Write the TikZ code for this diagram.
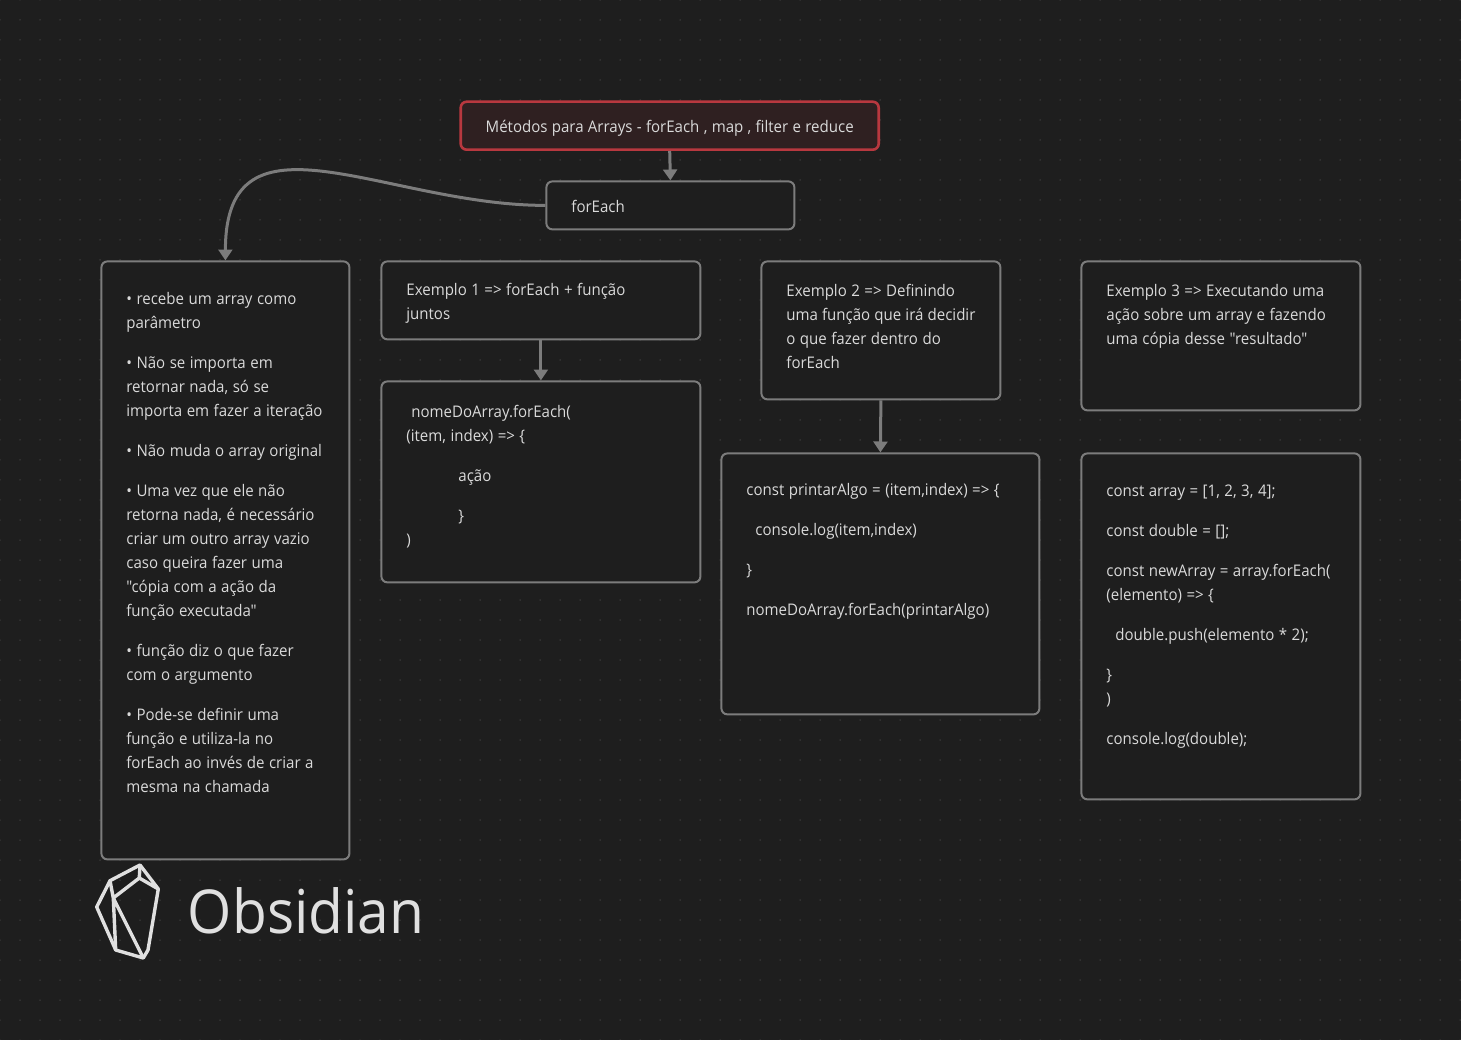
\documentclass[tikz,border=0pt]{standalone}
\usepackage{fontspec}
\newfontfamily\fonte[FakeStretch=0.94,WordSpace=1.15]{Open Sans}
\usetikzlibrary{arrows.meta}
\definecolor{fundo}{HTML}{1E1E1E}
\definecolor{ponto}{HTML}{434343}
\definecolor{borda}{HTML}{7C7C7C}
\definecolor{seta}{HTML}{7C7C7C}
\definecolor{texto}{HTML}{DADADA}
\definecolor{vermelho}{HTML}{B8383F}
\definecolor{fundovermelho}{HTML}{2F2021}
\definecolor{logo}{HTML}{E0E0E0}
\newdimen\pxu
\pxu=0.02cm
% largura, altura, folga em cima, texto
\newcommand{\cartao}[4]{\parbox[c][#2\pxu][t]{#1\pxu}{\fonte\fontsize{16\pxu}{24\pxu}\selectfont
	\setlength{\parskip}{16\pxu}\setlength{\parindent}{0pt}\raggedright
	\vspace*{\dimexpr #3\pxu-\parskip\relax}\strut #4}}
\tikzset{
	card/.style={draw=borda, fill=fundo, line width=2\pxu, rounded corners=6\pxu, anchor=north west,
		inner xsep=25\pxu, inner ysep=0pt, text=texto},
	cardred/.style={card, draw=vermelho, fill=fundovermelho, line width=2.6\pxu},
	link/.style={draw=seta, line width=3\pxu, -{Triangle[width=7.9pt, length=6.2pt]}},
}
\begin{document}
\begin{tikzpicture}[x=0.02cm, y=-0.02cm, line join=round]
	\fill[fundo] (0,0) rectangle (1461,1040);
	\useasboundingbox (0,0) rectangle (1461,1040);
	\foreach \i in {0,...,73}{
		\foreach \j in {0,...,52}{
			\fill[ponto] (20*\i,20*\j) circle (0.75);
		}
	}
	\node[cardred] (title) at (459.4,100.4) {\cartao{368}{48}{14}{Métodos para Arrays - forEach , map , filter e reduce}};
	\node[card] (foreach) at (545.4,180.4) {\cartao{198}{48}{14}{forEach}};
	\node[card] (resumo) at (100.4,260.4) {\cartao{198}{598}{26}{• recebe um array como\\
parâmetro

• Não se importa em\\
retornar nada, só se\\
importa em fazer a iteração

• Não muda o array original

• Uma vez que ele não\\
retorna nada, é necessário\\
criar um outro array vazio\\
caso queira fazer uma\\
"cópia com a ação da\\
função executada"

• função diz o que fazer\\
com o argumento

• Pode-se definir uma\\
função e utiliza-la no\\
forEach ao invés de criar a\\
mesma na chamada}};
	\node[card] (ex1) at (380.4,260.4) {\cartao{269}{78}{17}{Exemplo 1 => forEach + função\\
juntos}};
	\node[card] (cod1) at (380.4,380.4) {\cartao{269}{201}{19}{\hspace*{5\pxu}nomeDoArray.forEach(\\
(item, index) => \{

\hspace*{52\pxu}ação

\hspace*{52\pxu}\}\\
)}};
	\node[card] (ex2) at (760.4,260.4) {\cartao{189}{138}{18}{Exemplo 2 => Definindo\\
uma função que irá decidir\\
o que fazer dentro do\\
forEach}};
	\node[card] (cod2) at (720.4,452.4) {\cartao{268}{261}{25}{const printarAlgo = (item,index) => \{

\hspace*{9\pxu}console.log(item,index)

\}

nomeDoArray.forEach(printarAlgo)}};
	\node[card] (ex3) at (1080.4,260.4) {\cartao{229}{149}{18}{Exemplo 3 => Executando uma\\
ação sobre um array e fazendo\\
uma cópia desse "resultado"}};
	\node[card] (cod3) at (1080.4,452.4) {\cartao{229}{346}{26}{const array = [1, 2, 3, 4];

const double = [];

const newArray = array.forEach(\\
(elemento) => \{

\hspace*{9\pxu}double.push(elemento * 2);

\}\\
)

console.log(double);}};
	\foreach \a/\b in {title/foreach,ex1/cod1,ex2/cod2}{
		\draw[link] (\a.south) -- (\b.north);
	}
	\draw[link] (foreach.west) .. controls +(-160,0) and +(0,-160) .. (resumo.north);
	% logo
	\path
	(140,865) coordinate (T)
	(158.3,889) coordinate (R)
	(148,950) coordinate (S)
	(143.3,958) coordinate (B)
	(115.7,950) coordinate (L)
	(96.7,907) coordinate (E)
	(110,880.7) coordinate (U)
	(139.3,878) coordinate (I)
	(113.3,898) coordinate (V)
	;
	\draw[logo, line width=3.4\pxu] (T)--(R)--(S)--(B)--(L)--(E)--(U)--cycle;
	\draw[logo, line width=3.4\pxu] (T)--(I)--(R) (I)--(V)--(U) (V)--(B) (V)--(L);
	\node[anchor=west, inner sep=0pt, text=logo, font=\fonte\fontsize{60.5\pxu}{62\pxu}\selectfont] (marca) at (187.5,911) {Obsidian};
\end{tikzpicture}
\end{document}
